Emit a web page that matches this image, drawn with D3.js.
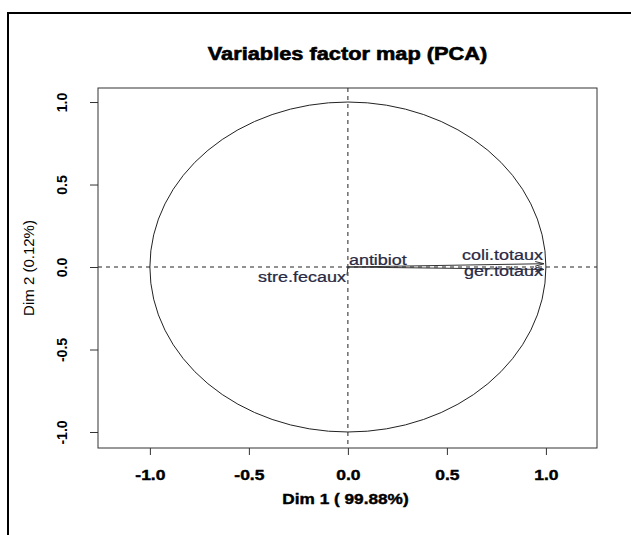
<!DOCTYPE html>
<html>
<head>
<meta charset="utf-8">
<script src="https://cdn.jsdelivr.net/npm/d3@7"></script>
<style>
  html, body { margin: 0; padding: 0; background: #fff; }
  svg { display: block; font-family: "Liberation Sans", Arial, sans-serif; }
</style>
</head>
<body>
<svg id="chart" width="631" height="535"></svg>
<script>
// ---- data ----
const variables = ["coli.totaux", "ger.totaux", "antibiot", "stre.fecaux"];
const dim1 = [0.99, 0.99, 0.005, -0.005];
const dim2 = [0.02, -0.015, -0.01, -0.05];
const labelPos = [3, 1, 3, 1]; // R-style: 3 = above, 1 = below
const xTickLabels = ["-1.0", "-0.5", "0.0", "0.5", "1.0"];
const yTickLabels = ["-1.0", "-0.5", "0.0", "0.5", "1.0"];
const title = "Variables factor map (PCA)";
const xLabel = "Dim 1 ( 99.88%)";
const yLabel = "Dim 2 (0.12%)";

// ---- layout ----
const svg = d3.select("#chart");
const L = 98, R = 597, T = 88, B = 448;
const x = d3.scaleLinear().domain([-1.262, 1.258]).range([L, R]);
const y = d3.scaleLinear().domain([-1.097, 1.085]).range([B, T]);
const stretch = 1.25;

// outer frame
svg.append("path")
  .attr("d", "M8,535 V13 H631")
  .attr("fill", "none").attr("stroke", "#000").attr("stroke-width", 2);

// title
svg.append("text")
  .attr("transform", `translate(${(L + R) / 2},60) scale(${1.21},1)`)
  .attr("text-anchor", "middle")
  .attr("font-size", 18).attr("font-weight", "bold").attr("fill", "#000")
  .attr("stroke", "#000").attr("stroke-width", 0.6)
  .text(title);

// correlation circle
svg.append("ellipse")
  .attr("cx", x(0)).attr("cy", y(0))
  .attr("rx", x(1) - x(0)).attr("ry", y(0) - y(1))
  .attr("fill", "none").attr("stroke", "#222").attr("stroke-width", 1);

// dashed axes lines
svg.append("line")
  .attr("x1", L).attr("x2", R).attr("y1", y(0)).attr("y2", y(0))
  .attr("stroke", "#222").attr("stroke-dasharray", "4,4");
svg.append("line")
  .attr("x1", x(0)).attr("x2", x(0)).attr("y1", T).attr("y2", B)
  .attr("stroke", "#222").attr("stroke-dasharray", "4,4");

// arrows
const vars = variables.map((v, i) => ({ name: v, x: dim1[i], y: dim2[i], pos: labelPos[i] }));
const ag = svg.append("g");
vars.forEach(d => {
  const x0 = x(0), y0 = y(0), x1 = x(d.x), y1 = y(d.y);
  ag.append("line").attr("x1", x0).attr("y1", y0).attr("x2", x1).attr("y2", y1)
    .attr("stroke", "#333").attr("stroke-width", 1);
  const len = Math.hypot(x1 - x0, y1 - y0);
  if (len > 15) {
    const ang = Math.atan2(y1 - y0, x1 - x0);
    const hl = 9, ha = Math.PI / 12;
    [ang + Math.PI - ha, ang + Math.PI + ha].forEach(a => {
      ag.append("line").attr("x1", x1).attr("y1", y1)
        .attr("x2", x1 + hl * Math.cos(a)).attr("y2", y1 + hl * Math.sin(a))
        .attr("stroke", "#333").attr("stroke-width", 1);
    });
  }
});

// variable labels
vars.forEach(d => {
  const px = x(d.x), py = y(d.y);
  const anchor = d.x > 0.5 ? "end" : (d.x >= 0 ? "start" : "end");
  const dx = anchor === "end" ? -1 : 0;
  const by = d.pos === 3 ? py - 4 : py + 7;
  svg.append("text")
    .attr("transform", `translate(${px + dx},${by}) scale(${1.24},1)`)
    .attr("text-anchor", anchor)
    .attr("font-size", 14.5).attr("fill", "#2a2a44")
    .attr("stroke", "#2a2a44").attr("stroke-width", 0.25)
    .text(d.name);
});

// plot box
svg.append("rect")
  .attr("x", L).attr("y", T).attr("width", R - L).attr("height", B - T)
  .attr("fill", "none").attr("stroke", "#333").attr("stroke-width", 1);

// x axis
const xAxis = d3.axisBottom(x)
  .tickValues(xTickLabels.map(Number))
  .tickFormat((d, i) => xTickLabels[i])
  .tickSize(7).tickPadding(0);
const gx = svg.append("g").attr("transform", `translate(0,${B})`).call(xAxis);
gx.select(".domain").remove();
gx.selectAll(".tick line").attr("stroke", "#333");
gx.selectAll(".tick text")
  .attr("y", 0).attr("dy", 0)
  .attr("transform", `translate(0,32) scale(${stretch},1)`)
  .attr("font-size", 14).attr("font-weight", "bold")
  .attr("stroke", "#000").attr("stroke-width", 0.4)
  .attr("font-family", "Liberation Sans, Arial, sans-serif").attr("fill", "#000");

// y axis
const yAxis = d3.axisLeft(y)
  .tickValues(yTickLabels.map(Number))
  .tickFormat((d, i) => yTickLabels[i])
  .tickSize(8).tickPadding(0);
const gy = svg.append("g").attr("transform", `translate(${L},0)`).call(yAxis);
gy.select(".domain").remove();
gy.selectAll(".tick line").attr("stroke", "#333");
gy.selectAll(".tick text")
  .attr("x", 0).attr("dy", 0).attr("y", 0)
  .attr("transform", "translate(-31,0) rotate(-90)")
  .attr("text-anchor", "middle")
  .attr("font-size", 14).attr("font-weight", "bold")
  .attr("font-family", "Liberation Sans, Arial, sans-serif").attr("fill", "#000");

// axis titles
svg.append("text")
  .attr("transform", `translate(${(L + R) / 2 - 2},504) scale(${1.23},1)`)
  .attr("text-anchor", "middle")
  .attr("font-size", 14).attr("font-weight", "bold").attr("fill", "#000")
  .attr("stroke", "#000").attr("stroke-width", 0.4)
  .text(xLabel);
svg.append("text")
  .attr("transform", `translate(34,${(T + B) / 2}) rotate(-90)`)
  .attr("text-anchor", "middle")
  .attr("font-size", 15).attr("fill", "#000")
  .text(yLabel);
</script>
</body>
</html>
